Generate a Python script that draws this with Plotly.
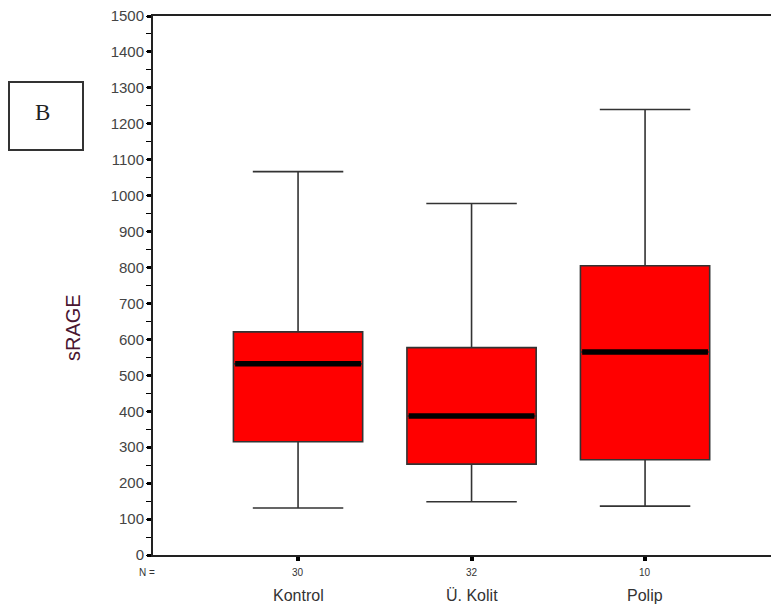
import plotly.graph_objects as go

categories = ["Kontrol", "Ü. Kolit", "Polip"]
n_counts = ["30", "32", "10"]
lower_whisker = [131, 148, 136]
q1 = [315, 253, 265]
median = [532, 387, 565]
q3 = [621, 577, 805]
upper_whisker = [1067, 978, 1240]
y_ticks = list(range(0, 1501, 100))

xpos = list(range(len(categories)))
box_w = 0.745

fig = go.Figure()
for i, c in enumerate(categories):
    fig.add_trace(go.Box(
        x=[xpos[i]], q1=[q1[i]], median=[median[i]], q3=[q3[i]],
        lowerfence=[lower_whisker[i]], upperfence=[upper_whisker[i]],
        width=box_w, whiskerwidth=0.7,
        fillcolor="#FF0000", line=dict(color="#333333", width=1.6),
        boxpoints=False, showlegend=False, name=c, hoverinfo="skip"))
    fig.add_trace(go.Scatter(
        x=[xpos[i] - box_w / 2 + 0.01, xpos[i] + box_w / 2 - 0.01],
        y=[median[i], median[i]], mode="lines",
        line=dict(color="black", width=5.5), showlegend=False, hoverinfo="skip"))

# page has an 8px body margin, so the figure is 771x602 and offsets are reduced by 8
fig.update_layout(
    width=771, height=602,
    margin=dict(l=145, r=0, t=8, b=55, autoexpand=False),
    paper_bgcolor="white", plot_bgcolor="white",
    font=dict(family="Liberation Sans, Arial", size=14, color="#333333"),
    showlegend=False,
)
fig.update_xaxes(
    range=[-0.836, 2.772], showgrid=False, zeroline=False,
    showline=True, linecolor="#222222", linewidth=2, mirror=True,
    tickmode="array", tickvals=xpos, ticktext=["" for _ in xpos],
    ticks="outside", ticklen=4, tickwidth=4, tickcolor="black",
    showticklabels=False,
)
fig.update_yaxes(
    range=[0, 1500], showgrid=False, zeroline=False,
    showline=True, linecolor="#222222", linewidth=2,
    tickmode="array", tickvals=y_ticks, ticktext=[str(v) for v in y_ticks],
    ticks="outside", ticklen=4, tickwidth=3, tickcolor="black",
    minor=dict(dtick=50, ticks="outside", ticklen=5, tickwidth=1, tickcolor="black"),
    tickfont=dict(size=15, color="#444444"),
    ticklabeloverflow="allow",
)

# N counts and category names
for i, c in enumerate(categories):
    fig.add_annotation(x=xpos[i], y=0, xref="x", yref="paper", text=n_counts[i],
                       showarrow=False, xanchor="center", yanchor="middle", yshift=-17,
                       font=dict(size=10, color="#333333"))
    fig.add_annotation(x=xpos[i], y=0, xref="x", yref="paper", text=c,
                       showarrow=False, xanchor="center", yanchor="middle", yshift=-40,
                       font=dict(size=16, color="#333333"))
fig.add_annotation(x=(147 - 153) / 626, y=0, xref="paper", yref="paper", text="N =",
                   showarrow=False, xanchor="center", yanchor="middle", yshift=-17,
                   font=dict(size=10, color="#333333"))

# y-axis title
fig.add_annotation(x=(73 - 153) / 626, y=(555 - 328) / 539, xref="paper", yref="paper",
                   text="sRAGE", textangle=-90, showarrow=False,
                   xanchor="center", yanchor="middle",
                   font=dict(size=20, color="#4a1530"))

# panel label
fig.add_shape(type="rect", xref="paper", yref="paper",
              x0=(9 - 153) / 626, x1=(83 - 153) / 626,
              y0=(555 - 150) / 539, y1=(555 - 82) / 539,
              line=dict(color="#333333", width=2), fillcolor="white")
fig.add_annotation(x=(42 - 153) / 626, y=(555 - 112) / 539, xref="paper", yref="paper",
                   text="B", showarrow=False, xanchor="center", yanchor="middle",
                   font=dict(family="Liberation Serif, DejaVu Serif", size=23, color="#222222"))

fig.write_html("out.html")
